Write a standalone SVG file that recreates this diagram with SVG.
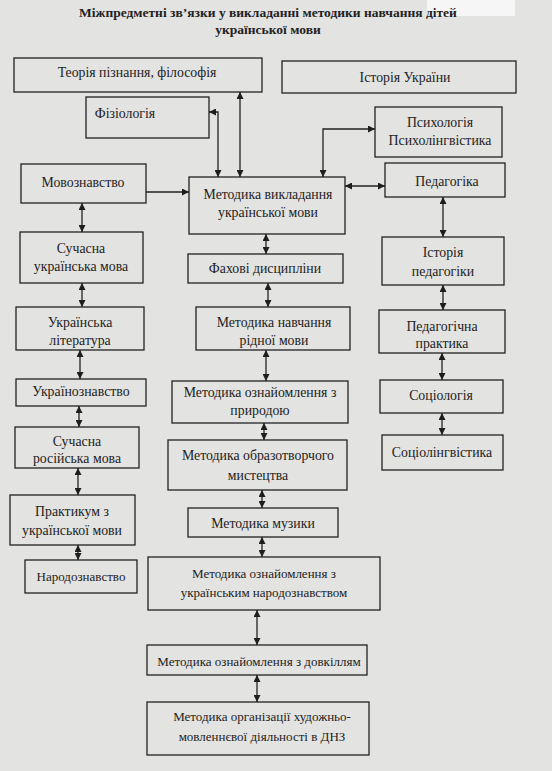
<svg xmlns="http://www.w3.org/2000/svg" width="552" height="771" viewBox="0 0 552 771">
<defs>
<marker id="ah" viewBox="0 0 10 10" refX="10" refY="5" markerWidth="7" markerHeight="7" orient="auto-start-reverse" markerUnits="userSpaceOnUse">
<path d="M0,0 L10,5 L0,10 z" fill="#1e1e1e"/>
</marker>
<style>
.bx{fill:none;stroke:#222;stroke-width:1.3}
.t{font-family:"Liberation Serif","DejaVu Serif",serif;font-size:13.8px;fill:#222;text-anchor:middle}
.s{font-size:13px}
.ttl{font-family:"Liberation Serif","DejaVu Serif",serif;font-size:13.5px;font-weight:bold;fill:#222;text-anchor:middle}
.c{fill:none;stroke:#222;stroke-width:1.3}
.b{marker-start:url(#ah);marker-end:url(#ah)}
.e{marker-end:url(#ah)}
</style>
</defs>
<rect x="0" y="0" width="552" height="771" fill="#e3e3e1"/>
<rect x="427" y="0" width="88" height="16" fill="#f6f6f6"/>
<g id="title">
<text class="ttl" x="268" y="17">Міжпредметні зв’язки у викладанні методики навчання дітей</text>
<text class="ttl" x="268" y="34">української мови</text>
</g>
<g id="n-teoriia"><rect class="bx" x="14" y="58" width="248" height="34"/><text class="t" x="137" y="77">Теорія пізнання, філософія</text></g>
<g id="n-istoriia-ukr"><rect class="bx" x="282" y="61" width="234" height="32"/><text class="t" x="405" y="82">Історія України</text></g>
<g id="n-fiziologiia"><rect class="bx" x="86" y="97" width="123" height="41"/><text class="t" x="125" y="118">Фізіологія</text></g>
<g id="n-psykh"><rect class="bx" x="375" y="107" width="127" height="50"/><text class="t" x="440" y="127">Психологія</text><text class="t" x="440" y="145">Психолінгвістика</text></g>
<g id="n-movozn"><rect class="bx" x="21" y="164" width="125" height="39"/><text class="t" x="83" y="187">Мовознавство</text></g>
<g id="n-metodyka"><rect class="bx" x="189" y="177" width="156" height="57"/><text class="t" x="268" y="199">Методика викладання</text><text class="t" x="268" y="217">української мови</text></g>
<g id="n-pedagogika"><rect class="bx" x="385" y="163" width="120" height="34"/><text class="t" x="447" y="186">Педагогіка</text></g>
<g id="n-suchasna-ukr"><rect class="bx" x="20" y="232" width="123" height="51"/><text class="t" x="81" y="253">Сучасна</text><text class="t" x="81" y="271">українська мова</text></g>
<g id="n-fakhovi"><rect class="bx" x="188" y="254" width="155" height="29"/><text class="t" x="265" y="273">Фахові дисципліни</text></g>
<g id="n-ist-ped"><rect class="bx" x="382" y="237" width="122" height="48"/><text class="t" x="443" y="257">Історія</text><text class="t" x="443" y="276">педагогіки</text></g>
<g id="n-ukr-lit"><rect class="bx" x="16" y="307" width="128" height="43"/><text class="t" x="80" y="327">Українська</text><text class="t" x="80" y="345">література</text></g>
<g id="n-ridna"><rect class="bx" x="196" y="307" width="154" height="43"/><text class="t" x="274" y="327">Методика навчання</text><text class="t" x="274" y="345">рідної мови</text></g>
<g id="n-ped-prakt"><rect class="bx" x="379" y="310" width="126" height="43"/><text class="t" x="442" y="331">Педагогічна</text><text class="t" x="442" y="348">практика</text></g>
<g id="n-ukrznavstvo"><rect class="bx" x="16" y="379" width="130" height="27"/><text class="t" x="81" y="396">Українознавство</text></g>
<g id="n-pryroda"><rect class="bx" x="172" y="381" width="176" height="42"/><text class="t" x="260" y="397">Методика ознайомлення з</text><text class="t" x="260" y="415">природою</text></g>
<g id="n-sotsiol"><rect class="bx" x="380" y="380" width="123" height="33"/><text class="t" x="441" y="400">Соціологія</text></g>
<g id="n-ros"><rect class="bx" x="15" y="427" width="124" height="41"/><text class="t" x="77" y="446">Сучасна</text><text class="t" x="77" y="463">російська мова</text></g>
<g id="n-obrazotv"><rect class="bx" x="168" y="440" width="179" height="50"/><text class="t" x="258" y="460">Методика образотворчого</text><text class="t" x="258" y="480">мистецтва</text></g>
<g id="n-sotsioling"><rect class="bx" x="382" y="435" width="121" height="35"/><text class="t" x="442" y="457">Соціолінгвістика</text></g>
<g id="n-praktykum"><rect class="bx" x="10" y="495" width="125" height="50"/><text class="t" x="72" y="516">Практикум з</text><text class="t" x="72" y="535">української мови</text></g>
<g id="n-muzyka"><rect class="bx" x="188" y="508" width="150" height="29"/><text class="t" x="263" y="528">Методика музики</text></g>
<g id="n-narodozn"><rect class="bx" x="25" y="560" width="112" height="33"/><text class="t s" x="81" y="581">Народознавство</text></g>
<g id="n-ukr-narodozn"><rect class="bx" x="148" y="557" width="232" height="53"/><text class="t s" x="264" y="578">Методика ознайомлення з</text><text class="t s" x="264" y="597">українським народознавством</text></g>
<g id="n-dovkillia"><rect class="bx" x="147" y="645" width="220" height="30"/><text class="t s" x="259" y="666">Методика ознайомлення з довкіллям</text></g>
<g id="n-dnz"><rect class="bx" x="147" y="702" width="222" height="53"/><text class="t s" x="262" y="721">Методика організації художньо-</text><text class="t s" x="262" y="741">мовленнєвої діяльності в ДНЗ</text></g>
<g id="connectors">
<path class="c b" d="M240,92 L240,177"/>
<path class="c b" d="M209,112 L218,112 L218,177"/>
<path class="c e" d="M146,192 L189,192"/>
<path class="c b" d="M323,177 L323,129 L375,129"/>
<path class="c b" d="M345,186 L385,186"/>
<path class="c b" d="M443,197 L443,237"/>
<path class="c b" d="M443,285 L443,310"/>
<path class="c b" d="M442,353 L442,380"/>
<path class="c b" d="M442,413 L442,435"/>
<path class="c b" d="M82,203 L82,232"/>
<path class="c b" d="M82,283 L82,307"/>
<path class="c b" d="M80,350 L80,379"/>
<path class="c b" d="M79,406 L79,427"/>
<path class="c b" d="M78,468 L78,495"/>
<path class="c b" d="M78,545 L78,560"/>
<path class="c b" d="M266,234 L266,254"/>
<path class="c b" d="M268,283 L268,307"/>
<path class="c b" d="M266,350 L266,381"/>
<path class="c b" d="M264,423 L264,440"/>
<path class="c b" d="M262,490 L262,508"/>
<path class="c b" d="M262,537 L262,557"/>
<path class="c b" d="M257,610 L257,645"/>
<path class="c b" d="M257,675 L257,702"/>
</g>
</svg>
